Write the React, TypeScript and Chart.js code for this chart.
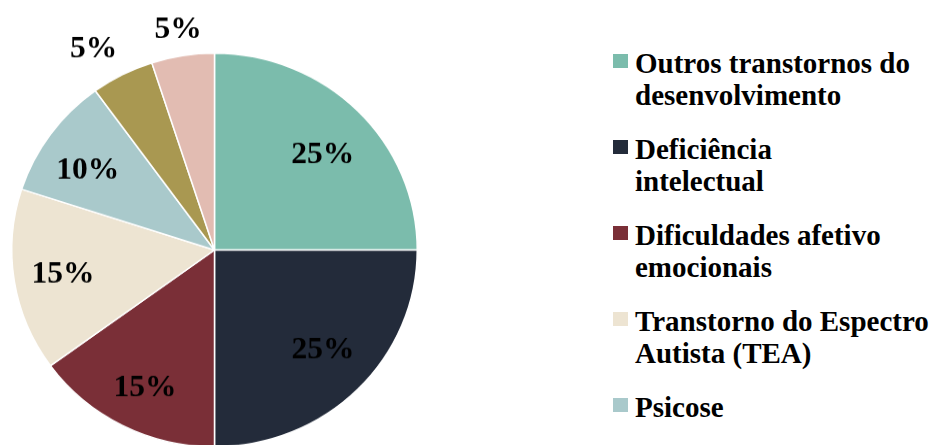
import React, { useEffect, useRef } from "react";
import { Chart, registerables } from "chart.js";

Chart.register(...registerables);

const categories: string[] = [
  "Outros transtornos do\ndesenvolvimento",
  "Deficiência\nintelectual",
  "Dificuldades afetivo\nemocionais",
  "Transtorno do Espectro\nAutista (TEA)",
  "Psicose",
  "Deficiência física",
  "Outros",
];
const percentages: number[] = [25, 25, 15, 15, 10, 5, 5];
const sliceColors: string[] = [
  "#7BBCAC",
  "#232B3A",
  "#7A2F37",
  "#EDE4D2",
  "#A9C9CB",
  "#A99851",
  "#E2BCB2",
];

const SERIF = '"Liberation Serif", "Times New Roman", serif';
const LABEL_FONT_SIZE = 31.5;

// label placement relative to each slice: radius factor (inside) or gap past the rim (outside), plus angular nudge in degrees
const labelPlacement: { inside: boolean; amount: number; turn: number }[] = [
  { inside: true, amount: 0.728, turn: 2.2 },
  { inside: true, amount: 0.73, turn: -2.1 },
  { inside: true, amount: 0.77, turn: -0.6 },
  { inside: true, amount: 0.755, turn: 0.5 },
  { inside: true, amount: 0.751, turn: -2.4 },
  { inside: false, amount: 39, turn: -3 },
  { inside: false, amount: 29, turn: 0 },
];

const labelPlugin = {
  id: "sliceLabels",
  afterDatasetsDraw(chart: any) {
    const ctx = chart.ctx;
    const meta = chart.getDatasetMeta(0);
    const data = chart.data.datasets[0].data as number[];
    ctx.save();
    ctx.font = `bold ${LABEL_FONT_SIZE}px ${SERIF}`;
    ctx.fillStyle = "#000000";
    ctx.textAlign = "center";
    ctx.textBaseline = "alphabetic";
    const capHalf = LABEL_FONT_SIZE * 0.335;
    meta.data.forEach((arc: any, i: number) => {
      const p = arc.getProps(["x", "y", "startAngle", "endAngle", "outerRadius"], true);
      const pl = labelPlacement[i] || { inside: true, amount: 0.75, turn: 0 };
      const mid = (p.startAngle + p.endAngle) / 2 + (pl.turn * Math.PI) / 180;
      const r = pl.inside ? p.outerRadius * pl.amount : p.outerRadius + pl.amount;
      ctx.fillText(`${data[i]}%`, p.x + Math.cos(mid) * r, p.y + Math.sin(mid) * r + capHalf);
    });
    ctx.restore();
  },
};

export default function App() {
  const canvasRef = useRef<HTMLCanvasElement | null>(null);

  useEffect(() => {
    if (!canvasRef.current) return;
    const chart = new Chart(canvasRef.current, {
      type: "pie",
      data: {
        labels: categories,
        datasets: [
          {
            data: percentages,
            backgroundColor: sliceColors,
            borderColor: "#FFFFFF",
            borderWidth: 1.5,
          },
        ],
      },
      options: {
        responsive: false,
        maintainAspectRatio: false,
        animation: false,
        devicePixelRatio: 1,
        layout: { padding: { left: 11, right: 11, top: 54, bottom: 59 } },
        plugins: {
          legend: { display: false },
          tooltip: { enabled: false },
        },
      },
      plugins: [labelPlugin],
    });
    return () => chart.destroy();
  }, []);

  return (
    <div
      style={{
        position: "absolute",
        left: 0,
        top: 0,
        width: 931,
        height: 445,
        overflow: "hidden",
        background: "#FFFFFF",
      }}
    >
      <div
        style={{
          position: "absolute",
          left: 0,
          top: 0,
          transform: "scaleY(0.971)",
          transformOrigin: "top left",
        }}
      >
        <canvas ref={canvasRef} width={429} height={520} style={{ display: "block" }} />
      </div>
      <div
        style={{
          position: "absolute",
          left: 613,
          top: 47,
          width: 318,
          fontFamily: SERIF,
          fontWeight: "bold",
          fontSize: 29,
          lineHeight: "32px",
          color: "#000000",
        }}
      >
        {categories.map((c, i) => (
          <div key={i} style={{ display: "flex", alignItems: "flex-start", marginBottom: 22 }}>
            <div
              style={{
                width: 15,
                height: 14,
                marginTop: 7,
                marginRight: 7,
                background: sliceColors[i],
                flex: "0 0 auto",
              }}
            />
            <div style={{ whiteSpace: "pre" }}>{c}</div>
          </div>
        ))}
      </div>
    </div>
  );
}
